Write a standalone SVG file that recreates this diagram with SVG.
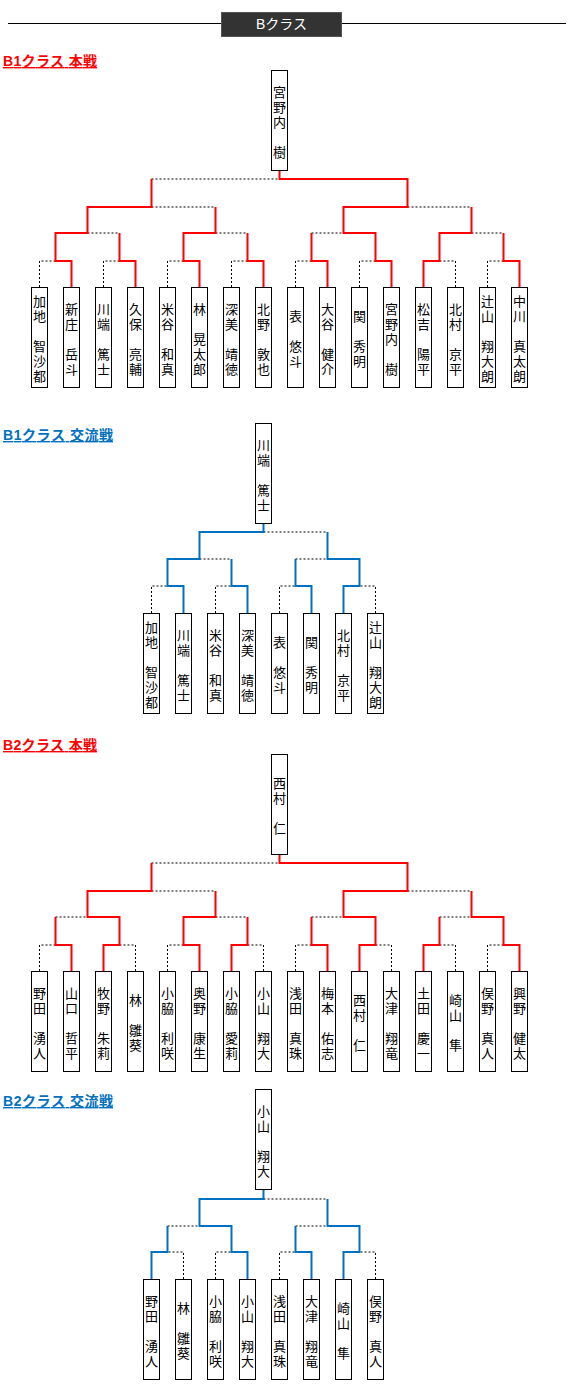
<svg xmlns="http://www.w3.org/2000/svg" width="570" height="1391" viewBox="0 0 570 1391">
<style>
.bx{fill:#fff;stroke:#000;stroke-width:1}
.n{font-family:"Noto Sans CJK JP","Noto Sans CJK SC",sans-serif;font-size:13px;text-anchor:middle;dominant-baseline:central;fill:#000}
.r{fill:none;stroke:#ff0000;stroke-width:2}
.b{fill:none;stroke:#0070c0;stroke-width:2}
.d{fill:none;stroke:#000;stroke-width:1;stroke-dasharray:2 2}
.t{font-family:"Liberation Sans","Noto Sans CJK JP",sans-serif;font-size:14px;font-weight:bold;text-decoration:underline}
</style>
<rect width="570" height="1391" fill="#fff"/>
<g id="header">
<line x1="8" y1="23.5" x2="566" y2="23.5" stroke="#000" stroke-width="1"/>
<rect x="221.5" y="12.5" width="120" height="24" fill="#333" stroke="#555"/>
<text x="281.5" y="29" font-family="Liberation Sans,Noto Sans CJK JP,sans-serif" font-size="14" fill="#fff" text-anchor="middle">Bクラス</text>
</g>
<g id="titles">
<text class="t" x="3" y="66" fill="#ff0000" textLength="94" lengthAdjust="spacing">B1クラス 本戦</text>
<text class="t" x="3" y="440" fill="#0070c0" textLength="110" lengthAdjust="spacing">B1クラス 交流戦</text>
<text class="t" x="3" y="750" fill="#ff0000" textLength="94" lengthAdjust="spacing">B2クラス 本戦</text>
<text class="t" x="3" y="1106" fill="#0070c0" textLength="110" lengthAdjust="spacing">B2クラス 交流戦</text>
</g>
<g id="connectors">
<path class="d" d="M39.5,287V261H55.5M103.5,287V261H119.5M167.5,287V261H183.5M231.5,287V261H247.5M295.5,287V261H311.5M359.5,287V261H375.5M455.5,287V261H439.5M487.5,287V261H503.5M87.5,233H119.5M215.5,233H247.5M311.5,233H343.5M471.5,233H503.5M151.5,207H215.5M407.5,207H471.5M151.5,179H279.5"/>
<path class="r" d="M71.5,287V261H55.5V233H87.5V207H151.5V179M135.5,287V261H119.5V233M199.5,287V261H183.5V233H215.5V207M263.5,287V261H247.5V233M327.5,287V261H311.5V233M391.5,287V261H375.5V233H343.5V207H407.5V179H279.5V170M423.5,287V261H439.5V233H471.5V207M519.5,287V261H503.5V233"/>
<path class="d" d="M151.5,613V586H167.5M215.5,613V586H231.5M279.5,613V586H295.5M375.5,613V586H359.5M199.5,559H231.5M295.5,559H327.5M263.5,532H327.5"/>
<path class="b" d="M183.5,613V586H167.5V559H199.5V532H263.5V523M247.5,613V586H231.5V559M311.5,613V586H295.5V559M343.5,613V586H359.5V559H327.5V532"/>
<path class="d" d="M39.5,971V945H55.5M135.5,971V945H119.5M167.5,971V945H183.5M263.5,971V945H247.5M295.5,971V945H311.5M391.5,971V945H375.5M455.5,971V945H439.5M487.5,971V945H503.5M55.5,917H87.5M215.5,917H247.5M311.5,917H343.5M439.5,917H471.5M151.5,891H215.5M407.5,891H471.5M151.5,863H279.5"/>
<path class="r" d="M71.5,971V945H55.5V917M103.5,971V945H119.5V917H87.5V891H151.5V863M199.5,971V945H183.5V917H215.5V891M231.5,971V945H247.5V917M327.5,971V945H311.5V917M359.5,971V945H375.5V917H343.5V891H407.5V863H279.5V854M423.5,971V945H439.5V917M519.5,971V945H503.5V917H471.5V891"/>
<path class="d" d="M183.5,1279V1252H167.5M215.5,1279V1252H231.5M279.5,1279V1252H295.5M375.5,1279V1252H359.5M167.5,1226H199.5M295.5,1226H327.5M263.5,1199H327.5"/>
<path class="b" d="M151.5,1279V1252H167.5V1226M247.5,1279V1252H231.5V1226H199.5V1199H263.5V1189M311.5,1279V1252H295.5V1226M343.5,1279V1252H359.5V1226H327.5V1199"/>
</g>
<g id="b1-top"><rect class="bx" x="271.5" y="70.5" width="16" height="100"/><text class="n"><tspan x="279.5" y="90.5">宮</tspan><tspan x="279.5" y="105.5">野</tspan><tspan x="279.5" y="120.5">内</tspan><tspan x="279.5" y="150.5">樹</tspan></text></g>
<g id="b1-l0"><rect class="bx" x="31.5" y="287.5" width="16" height="100"/><text class="n"><tspan x="39.5" y="300">加</tspan><tspan x="39.5" y="315">地</tspan><tspan x="39.5" y="345">智</tspan><tspan x="39.5" y="360">沙</tspan><tspan x="39.5" y="375">都</tspan></text></g>
<g id="b1-l1"><rect class="bx" x="63.5" y="287.5" width="16" height="100"/><text class="n"><tspan x="71.5" y="307.5">新</tspan><tspan x="71.5" y="322.5">庄</tspan><tspan x="71.5" y="352.5">岳</tspan><tspan x="71.5" y="367.5">斗</tspan></text></g>
<g id="b1-l2"><rect class="bx" x="95.5" y="287.5" width="16" height="100"/><text class="n"><tspan x="103.5" y="307.5">川</tspan><tspan x="103.5" y="322.5">端</tspan><tspan x="103.5" y="352.5">篤</tspan><tspan x="103.5" y="367.5">士</tspan></text></g>
<g id="b1-l3"><rect class="bx" x="127.5" y="287.5" width="16" height="100"/><text class="n"><tspan x="135.5" y="307.5">久</tspan><tspan x="135.5" y="322.5">保</tspan><tspan x="135.5" y="352.5">亮</tspan><tspan x="135.5" y="367.5">輔</tspan></text></g>
<g id="b1-l4"><rect class="bx" x="159.5" y="287.5" width="16" height="100"/><text class="n"><tspan x="167.5" y="307.5">米</tspan><tspan x="167.5" y="322.5">谷</tspan><tspan x="167.5" y="352.5">和</tspan><tspan x="167.5" y="367.5">真</tspan></text></g>
<g id="b1-l5"><rect class="bx" x="191.5" y="287.5" width="16" height="100"/><text class="n"><tspan x="199.5" y="307.5">林</tspan><tspan x="199.5" y="337.5">晃</tspan><tspan x="199.5" y="352.5">太</tspan><tspan x="199.5" y="367.5">郎</tspan></text></g>
<g id="b1-l6"><rect class="bx" x="223.5" y="287.5" width="16" height="100"/><text class="n"><tspan x="231.5" y="307.5">深</tspan><tspan x="231.5" y="322.5">美</tspan><tspan x="231.5" y="352.5">靖</tspan><tspan x="231.5" y="367.5">徳</tspan></text></g>
<g id="b1-l7"><rect class="bx" x="255.5" y="287.5" width="16" height="100"/><text class="n"><tspan x="263.5" y="307.5">北</tspan><tspan x="263.5" y="322.5">野</tspan><tspan x="263.5" y="352.5">敦</tspan><tspan x="263.5" y="367.5">也</tspan></text></g>
<g id="b1-l8"><rect class="bx" x="287.5" y="287.5" width="16" height="100"/><text class="n"><tspan x="295.5" y="315">表</tspan><tspan x="295.5" y="345">悠</tspan><tspan x="295.5" y="360">斗</tspan></text></g>
<g id="b1-l9"><rect class="bx" x="319.5" y="287.5" width="16" height="100"/><text class="n"><tspan x="327.5" y="307.5">大</tspan><tspan x="327.5" y="322.5">谷</tspan><tspan x="327.5" y="352.5">健</tspan><tspan x="327.5" y="367.5">介</tspan></text></g>
<g id="b1-l10"><rect class="bx" x="351.5" y="287.5" width="16" height="100"/><text class="n"><tspan x="359.5" y="315">関</tspan><tspan x="359.5" y="345">秀</tspan><tspan x="359.5" y="360">明</tspan></text></g>
<g id="b1-l11"><rect class="bx" x="383.5" y="287.5" width="16" height="100"/><text class="n"><tspan x="391.5" y="307.5">宮</tspan><tspan x="391.5" y="322.5">野</tspan><tspan x="391.5" y="337.5">内</tspan><tspan x="391.5" y="367.5">樹</tspan></text></g>
<g id="b1-l12"><rect class="bx" x="415.5" y="287.5" width="16" height="100"/><text class="n"><tspan x="423.5" y="307.5">松</tspan><tspan x="423.5" y="322.5">吉</tspan><tspan x="423.5" y="352.5">陽</tspan><tspan x="423.5" y="367.5">平</tspan></text></g>
<g id="b1-l13"><rect class="bx" x="447.5" y="287.5" width="16" height="100"/><text class="n"><tspan x="455.5" y="307.5">北</tspan><tspan x="455.5" y="322.5">村</tspan><tspan x="455.5" y="352.5">京</tspan><tspan x="455.5" y="367.5">平</tspan></text></g>
<g id="b1-l14"><rect class="bx" x="479.5" y="287.5" width="16" height="100"/><text class="n"><tspan x="487.5" y="300">辻</tspan><tspan x="487.5" y="315">山</tspan><tspan x="487.5" y="345">翔</tspan><tspan x="487.5" y="360">大</tspan><tspan x="487.5" y="375">朗</tspan></text></g>
<g id="b1-l15"><rect class="bx" x="511.5" y="287.5" width="16" height="100"/><text class="n"><tspan x="519.5" y="300">中</tspan><tspan x="519.5" y="315">川</tspan><tspan x="519.5" y="345">真</tspan><tspan x="519.5" y="360">太</tspan><tspan x="519.5" y="375">朗</tspan></text></g>
<g id="b1x-top"><rect class="bx" x="255.5" y="423.5" width="16" height="100"/><text class="n"><tspan x="263.5" y="443.5">川</tspan><tspan x="263.5" y="458.5">端</tspan><tspan x="263.5" y="488.5">篤</tspan><tspan x="263.5" y="503.5">士</tspan></text></g>
<g id="b1x-l0"><rect class="bx" x="143.5" y="613.5" width="16" height="100"/><text class="n"><tspan x="151.5" y="626">加</tspan><tspan x="151.5" y="641">地</tspan><tspan x="151.5" y="671">智</tspan><tspan x="151.5" y="686">沙</tspan><tspan x="151.5" y="701">都</tspan></text></g>
<g id="b1x-l1"><rect class="bx" x="175.5" y="613.5" width="16" height="100"/><text class="n"><tspan x="183.5" y="633.5">川</tspan><tspan x="183.5" y="648.5">端</tspan><tspan x="183.5" y="678.5">篤</tspan><tspan x="183.5" y="693.5">士</tspan></text></g>
<g id="b1x-l2"><rect class="bx" x="207.5" y="613.5" width="16" height="100"/><text class="n"><tspan x="215.5" y="633.5">米</tspan><tspan x="215.5" y="648.5">谷</tspan><tspan x="215.5" y="678.5">和</tspan><tspan x="215.5" y="693.5">真</tspan></text></g>
<g id="b1x-l3"><rect class="bx" x="239.5" y="613.5" width="16" height="100"/><text class="n"><tspan x="247.5" y="633.5">深</tspan><tspan x="247.5" y="648.5">美</tspan><tspan x="247.5" y="678.5">靖</tspan><tspan x="247.5" y="693.5">徳</tspan></text></g>
<g id="b1x-l4"><rect class="bx" x="271.5" y="613.5" width="16" height="100"/><text class="n"><tspan x="279.5" y="641">表</tspan><tspan x="279.5" y="671">悠</tspan><tspan x="279.5" y="686">斗</tspan></text></g>
<g id="b1x-l5"><rect class="bx" x="303.5" y="613.5" width="16" height="100"/><text class="n"><tspan x="311.5" y="641">関</tspan><tspan x="311.5" y="671">秀</tspan><tspan x="311.5" y="686">明</tspan></text></g>
<g id="b1x-l6"><rect class="bx" x="335.5" y="613.5" width="16" height="100"/><text class="n"><tspan x="343.5" y="633.5">北</tspan><tspan x="343.5" y="648.5">村</tspan><tspan x="343.5" y="678.5">京</tspan><tspan x="343.5" y="693.5">平</tspan></text></g>
<g id="b1x-l7"><rect class="bx" x="367.5" y="613.5" width="16" height="100"/><text class="n"><tspan x="375.5" y="626">辻</tspan><tspan x="375.5" y="641">山</tspan><tspan x="375.5" y="671">翔</tspan><tspan x="375.5" y="686">大</tspan><tspan x="375.5" y="701">朗</tspan></text></g>
<g id="b2-top"><rect class="bx" x="271.5" y="754.5" width="16" height="100"/><text class="n"><tspan x="279.5" y="782">西</tspan><tspan x="279.5" y="797">村</tspan><tspan x="279.5" y="827">仁</tspan></text></g>
<g id="b2-l0"><rect class="bx" x="31.5" y="971.5" width="16" height="100"/><text class="n"><tspan x="39.5" y="991.5">野</tspan><tspan x="39.5" y="1006.5">田</tspan><tspan x="39.5" y="1036.5">湧</tspan><tspan x="39.5" y="1051.5">人</tspan></text></g>
<g id="b2-l1"><rect class="bx" x="63.5" y="971.5" width="16" height="100"/><text class="n"><tspan x="71.5" y="991.5">山</tspan><tspan x="71.5" y="1006.5">口</tspan><tspan x="71.5" y="1036.5">哲</tspan><tspan x="71.5" y="1051.5">平</tspan></text></g>
<g id="b2-l2"><rect class="bx" x="95.5" y="971.5" width="16" height="100"/><text class="n"><tspan x="103.5" y="991.5">牧</tspan><tspan x="103.5" y="1006.5">野</tspan><tspan x="103.5" y="1036.5">朱</tspan><tspan x="103.5" y="1051.5">莉</tspan></text></g>
<g id="b2-l3"><rect class="bx" x="127.5" y="971.5" width="16" height="100"/><text class="n"><tspan x="135.5" y="999">林</tspan><tspan x="135.5" y="1029">雛</tspan><tspan x="135.5" y="1044">葵</tspan></text></g>
<g id="b2-l4"><rect class="bx" x="159.5" y="971.5" width="16" height="100"/><text class="n"><tspan x="167.5" y="991.5">小</tspan><tspan x="167.5" y="1006.5">脇</tspan><tspan x="167.5" y="1036.5">利</tspan><tspan x="167.5" y="1051.5">咲</tspan></text></g>
<g id="b2-l5"><rect class="bx" x="191.5" y="971.5" width="16" height="100"/><text class="n"><tspan x="199.5" y="991.5">奥</tspan><tspan x="199.5" y="1006.5">野</tspan><tspan x="199.5" y="1036.5">康</tspan><tspan x="199.5" y="1051.5">生</tspan></text></g>
<g id="b2-l6"><rect class="bx" x="223.5" y="971.5" width="16" height="100"/><text class="n"><tspan x="231.5" y="991.5">小</tspan><tspan x="231.5" y="1006.5">脇</tspan><tspan x="231.5" y="1036.5">愛</tspan><tspan x="231.5" y="1051.5">莉</tspan></text></g>
<g id="b2-l7"><rect class="bx" x="255.5" y="971.5" width="16" height="100"/><text class="n"><tspan x="263.5" y="991.5">小</tspan><tspan x="263.5" y="1006.5">山</tspan><tspan x="263.5" y="1036.5">翔</tspan><tspan x="263.5" y="1051.5">大</tspan></text></g>
<g id="b2-l8"><rect class="bx" x="287.5" y="971.5" width="16" height="100"/><text class="n"><tspan x="295.5" y="991.5">浅</tspan><tspan x="295.5" y="1006.5">田</tspan><tspan x="295.5" y="1036.5">真</tspan><tspan x="295.5" y="1051.5">珠</tspan></text></g>
<g id="b2-l9"><rect class="bx" x="319.5" y="971.5" width="16" height="100"/><text class="n"><tspan x="327.5" y="991.5">梅</tspan><tspan x="327.5" y="1006.5">本</tspan><tspan x="327.5" y="1036.5">佑</tspan><tspan x="327.5" y="1051.5">志</tspan></text></g>
<g id="b2-l10"><rect class="bx" x="351.5" y="971.5" width="16" height="100"/><text class="n"><tspan x="359.5" y="999">西</tspan><tspan x="359.5" y="1014">村</tspan><tspan x="359.5" y="1044">仁</tspan></text></g>
<g id="b2-l11"><rect class="bx" x="383.5" y="971.5" width="16" height="100"/><text class="n"><tspan x="391.5" y="991.5">大</tspan><tspan x="391.5" y="1006.5">津</tspan><tspan x="391.5" y="1036.5">翔</tspan><tspan x="391.5" y="1051.5">竜</tspan></text></g>
<g id="b2-l12"><rect class="bx" x="415.5" y="971.5" width="16" height="100"/><text class="n"><tspan x="423.5" y="991.5">土</tspan><tspan x="423.5" y="1006.5">田</tspan><tspan x="423.5" y="1036.5">慶</tspan><tspan x="423.5" y="1051.5">一</tspan></text></g>
<g id="b2-l13"><rect class="bx" x="447.5" y="971.5" width="16" height="100"/><text class="n"><tspan x="455.5" y="999">崎</tspan><tspan x="455.5" y="1014">山</tspan><tspan x="455.5" y="1044">隼</tspan></text></g>
<g id="b2-l14"><rect class="bx" x="479.5" y="971.5" width="16" height="100"/><text class="n"><tspan x="487.5" y="991.5">俣</tspan><tspan x="487.5" y="1006.5">野</tspan><tspan x="487.5" y="1036.5">真</tspan><tspan x="487.5" y="1051.5">人</tspan></text></g>
<g id="b2-l15"><rect class="bx" x="511.5" y="971.5" width="16" height="100"/><text class="n"><tspan x="519.5" y="991.5">興</tspan><tspan x="519.5" y="1006.5">野</tspan><tspan x="519.5" y="1036.5">健</tspan><tspan x="519.5" y="1051.5">太</tspan></text></g>
<g id="b2x-top"><rect class="bx" x="255.5" y="1089.5" width="16" height="100"/><text class="n"><tspan x="263.5" y="1109.5">小</tspan><tspan x="263.5" y="1124.5">山</tspan><tspan x="263.5" y="1154.5">翔</tspan><tspan x="263.5" y="1169.5">大</tspan></text></g>
<g id="b2x-l0"><rect class="bx" x="143.5" y="1279.5" width="16" height="100"/><text class="n"><tspan x="151.5" y="1299.5">野</tspan><tspan x="151.5" y="1314.5">田</tspan><tspan x="151.5" y="1344.5">湧</tspan><tspan x="151.5" y="1359.5">人</tspan></text></g>
<g id="b2x-l1"><rect class="bx" x="175.5" y="1279.5" width="16" height="100"/><text class="n"><tspan x="183.5" y="1307">林</tspan><tspan x="183.5" y="1337">雛</tspan><tspan x="183.5" y="1352">葵</tspan></text></g>
<g id="b2x-l2"><rect class="bx" x="207.5" y="1279.5" width="16" height="100"/><text class="n"><tspan x="215.5" y="1299.5">小</tspan><tspan x="215.5" y="1314.5">脇</tspan><tspan x="215.5" y="1344.5">利</tspan><tspan x="215.5" y="1359.5">咲</tspan></text></g>
<g id="b2x-l3"><rect class="bx" x="239.5" y="1279.5" width="16" height="100"/><text class="n"><tspan x="247.5" y="1299.5">小</tspan><tspan x="247.5" y="1314.5">山</tspan><tspan x="247.5" y="1344.5">翔</tspan><tspan x="247.5" y="1359.5">大</tspan></text></g>
<g id="b2x-l4"><rect class="bx" x="271.5" y="1279.5" width="16" height="100"/><text class="n"><tspan x="279.5" y="1299.5">浅</tspan><tspan x="279.5" y="1314.5">田</tspan><tspan x="279.5" y="1344.5">真</tspan><tspan x="279.5" y="1359.5">珠</tspan></text></g>
<g id="b2x-l5"><rect class="bx" x="303.5" y="1279.5" width="16" height="100"/><text class="n"><tspan x="311.5" y="1299.5">大</tspan><tspan x="311.5" y="1314.5">津</tspan><tspan x="311.5" y="1344.5">翔</tspan><tspan x="311.5" y="1359.5">竜</tspan></text></g>
<g id="b2x-l6"><rect class="bx" x="335.5" y="1279.5" width="16" height="100"/><text class="n"><tspan x="343.5" y="1307">崎</tspan><tspan x="343.5" y="1322">山</tspan><tspan x="343.5" y="1352">隼</tspan></text></g>
<g id="b2x-l7"><rect class="bx" x="367.5" y="1279.5" width="16" height="100"/><text class="n"><tspan x="375.5" y="1299.5">俣</tspan><tspan x="375.5" y="1314.5">野</tspan><tspan x="375.5" y="1344.5">真</tspan><tspan x="375.5" y="1359.5">人</tspan></text></g>
</svg>
